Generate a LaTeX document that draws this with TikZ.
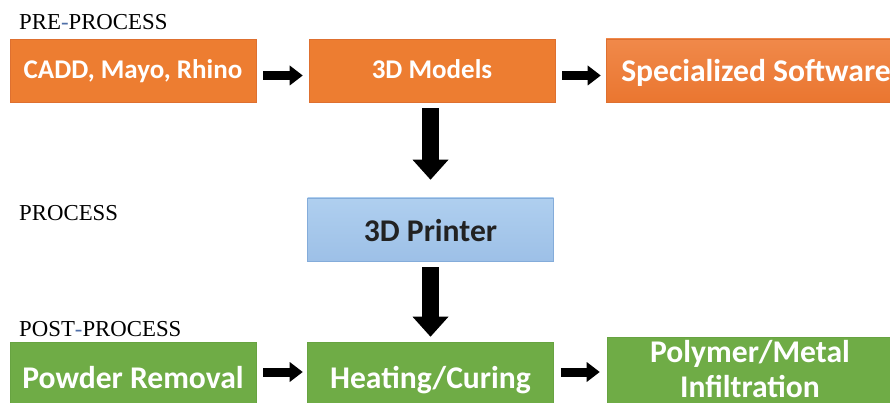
\documentclass[tikz,border=0pt]{standalone}
\usepackage{fontspec}
\setmainfont{Liberation Serif}
\newfontfamily\calibri{Carlito}
\usetikzlibrary{arrows.meta}

\definecolor{preorange}{HTML}{ED7D31}
\definecolor{preedge}{HTML}{DE7030}
\definecolor{softtop}{HTML}{F0894A}
\definecolor{softbottom}{HTML}{EA7630}
\definecolor{proctop}{HTML}{AFCFEF}
\definecolor{procbottom}{HTML}{9DC0E7}
\definecolor{procedge}{HTML}{84ACDA}
\definecolor{postgreen}{HTML}{6FAC46}
\definecolor{postedge}{HTML}{67A341}
\definecolor{hyphenblue}{HTML}{4F6FA8}
\definecolor{darktext}{HTML}{222222}

\tikzset{
  stage/.style={rectangle, inner sep=0pt, line width=0.6pt,
    minimum width=246pt, minimum height=63pt, text=white, text depth=0pt,
    font=\calibri\bfseries\fontsize{31.6}{36.3}\selectfont},
  smalltext/.style={font=\calibri\bfseries\fontsize{27}{32}\selectfont},
  orangebox/.style={stage, fill=preorange, draw=preedge},
  bluebox/.style={stage, top color=proctop, bottom color=procbottom, draw=procedge, text=darktext},
  greenbox/.style={stage, fill=postgreen, draw=postedge, minimum height=72pt},
  flow/.style={line width=9pt, -{Triangle[length=13pt,width=20pt,line width=0pt]}},
  drop/.style={line width=17pt, -{Triangle[length=20pt,width=36pt,line width=0pt]}},
  phase/.style={anchor=base west, inner sep=0pt, font=\fontsize{22.8}{27}\selectfont}
}

\begin{document}
\begin{tikzpicture}[x=1pt, y=-1pt]
  \useasboundingbox (0,0) rectangle (890,403);
  \fill[white] (0,0) rectangle (890,403);
  \clip (0,0) rectangle (890,403);

  % phase headings
  \node[phase] (pre)  at (19,30)  {PRE{\color{hyphenblue}-}PROCESS};
  \node[phase] (proc) at (19,220) {PROCESS};
  \node[phase] (post) at (19,336) {POST{\color{hyphenblue}-}PROCESS};

  % pre-process row
  \node[orangebox, smalltext, text height=17pt] (cadd)   at (133,70.5) {CADD, Mayo, Rhino};
  \node[orangebox, smalltext, text height=17pt] (models) at (432,70.5) {3D Models};
  \node[stage, top color=softtop, bottom color=softbottom, draw=preedge,
        minimum width=300pt, text height=23pt] (soft) at (756,70.5) {Specialized Software};

  % process
  \node[bluebox, text height=23pt] (printer) at (430.5,229.5) {3D Printer};

  % post-process row
  \node[greenbox, text height=20pt] (powder) at (133,378) {Powder Removal};
  \node[greenbox, text height=20pt] (heat)   at (430.5,378) {Heating/Curing};
  \node[greenbox, minimum width=286pt, minimum height=77pt, text height=44pt] (infil) at (750,375.5)
    {\fontsize{31.6}{35}\selectfont\begin{tabular}[b]{@{}c@{}}Polymer/Metal\\Infiltration\end{tabular}};

  % connectors
  \draw[flow] ([xshift=7pt,yshift=-5pt]cadd.east)   -- ([xshift=-6pt,yshift=-5pt]models.west);
  \draw[flow] ([xshift=7pt,yshift=-5pt]models.east) -- ([xshift=-5pt,yshift=-5pt]soft.west);
  \draw[drop] ([xshift=-1.5pt,yshift=-6pt]models.south) -- ([yshift=18pt]printer.north);
  \draw[drop] ([yshift=-6pt]printer.south) -- ([yshift=5pt]heat.north);
  \draw[flow] ([xshift=7pt,yshift=6pt]powder.east) -- ([xshift=-4.5pt,yshift=6pt]heat.west);
  \draw[flow] ([xshift=7pt,yshift=6pt]heat.east)   -- ([xshift=-7pt,yshift=3.5pt]infil.west);
\end{tikzpicture}
\end{document}
